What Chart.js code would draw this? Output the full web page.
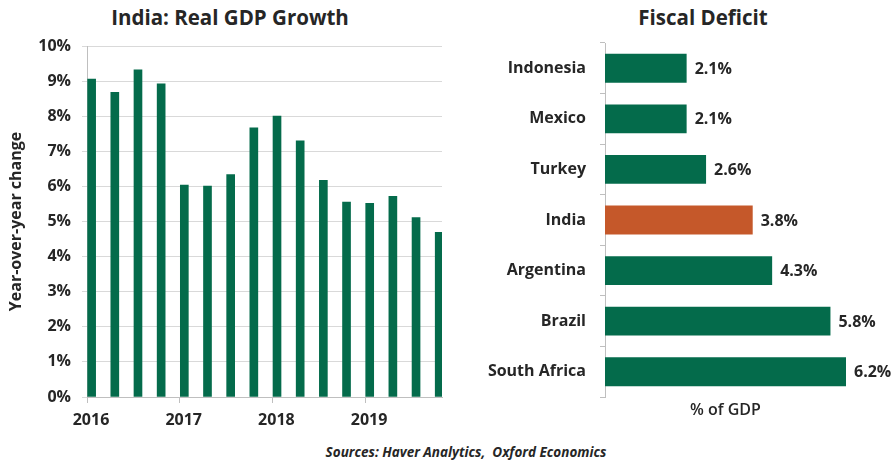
<!DOCTYPE html>
<html>
<head>
<meta charset="utf-8">
<script src="https://cdn.jsdelivr.net/npm/chart.js@4.4.1/dist/chart.umd.min.js"></script>
<style>
  body { margin: 0; background: #fff; }
  #wrap { position: relative; width: 894px; height: 460px; overflow: hidden; font-family: "Open Sans", sans-serif; color: #262626; }
  .title { position: absolute; top: 4px; width: 400px; text-align: center; font-weight: bold; font-size: 20.5px; line-height: 26px; }
  .box { position: absolute; top: 0; height: 440px; }
  #source { position: absolute; left: 266px; top: 442px; width: 400px; text-align: center; font-weight: bold; font-style: italic; font-size: 13.5px; line-height: 20px; }
</style>
</head>
<body>
<div id="wrap">
  <div class="title" style="left:30px">India: Real GDP Growth</div>
  <div class="title" style="left:503px">Fiscal Deficit</div>
  <div class="box" style="left:0; width:460px"><canvas id="gdpChart"></canvas></div>
  <div class="box" style="left:460px; width:434px"><canvas id="deficitChart"></canvas></div>
  <div id="source">Sources: Haver Analytics,&nbsp; Oxford Economics</div>
</div>
<script>
// quarterly real GDP growth, % y/y
const quarters = ['2016 Q1', '2016 Q2', '2016 Q3', '2016 Q4',
                  '2017 Q1', '2017 Q2', '2017 Q3', '2017 Q4',
                  '2018 Q1', '2018 Q2', '2018 Q3', '2018 Q4',
                  '2019 Q1', '2019 Q2', '2019 Q3', '2019 Q4'];
const gdpGrowth = [9.06, 8.68, 9.32, 8.92, 6.04, 6.01, 6.34, 7.67,
                   8.00, 7.30, 6.17, 5.55, 5.52, 5.72, 5.11, 4.69];
const yearTicks = [2016, 2017, 2018, 2019];

// fiscal deficit, % of GDP
const countries = ['Indonesia', 'Mexico', 'Turkey', 'India', 'Argentina', 'Brazil', 'South Africa'];
const deficit = [2.1, 2.1, 2.6, 3.8, 4.3, 5.8, 6.2];
const highlight = 'India';

const GREEN = '#046b4b';
const ORANGE = '#c5582a';
const TEXT = '#262626';
const FONT = '"Open Sans", sans-serif';

// quarter label -> position on a year axis
function quarterPos(label) {
  const [yr, q] = label.split(' Q');
  return Number(yr) + (Number(q) - 1) * 0.25 + 0.05;
}

new Chart(document.getElementById('gdpChart'), {
  type: 'bar',
  data: {
    datasets: [{
      data: quarters.map((q, i) => ({ x: quarterPos(q), y: gdpGrowth[i] })),
      backgroundColor: GREEN,
      barThickness: 8
    }]
  },
  options: {
    responsive: true,
    maintainAspectRatio: false,
    animation: false,
    layout: { padding: { top: 46, right: 18, bottom: 0, left: 0 } },
    plugins: { legend: { display: false }, tooltip: { enabled: false } },
    scales: {
      x: {
        type: 'linear',
        offset: false,
        min: 2016,
        max: 2019.83,
        afterBuildTicks: s => { s.ticks = yearTicks.map(v => ({ value: v })); },
        afterFit: s => { s.height = 43; },
        ticks: {
          callback: v => String(v),
          color: TEXT,
          font: { family: FONT, size: 16, weight: 'bold' },
          labelOffset: 4,
          padding: 8,
          maxRotation: 0
        },
        grid: { offset: false, drawOnChartArea: false, drawTicks: true, tickLength: 6, color: '#bfbfbf' },
        border: { color: '#bfbfbf' }
      },
      y: {
        min: 0,
        max: 10,
        afterFit: s => { s.width = 87; },
        ticks: {
          stepSize: 1,
          callback: v => v + '%',
          color: TEXT,
          font: { family: FONT, size: 16, weight: 'bold' },
          padding: 11
        },
        grid: { color: '#d9d9d9', tickLength: 5 },
        border: { color: '#bfbfbf' },
        title: {
          display: true,
          text: 'Year-over-year change',
          color: TEXT,
          font: { family: FONT, size: 16, weight: 'bold' },
          padding: { top: 7, bottom: 0 }
        }
      }
    }
  }
});

// value labels at the end of each horizontal bar
const barLabels = {
  id: 'barLabels',
  afterDatasetsDraw(chart) {
    const ctx = chart.ctx;
    const meta = chart.getDatasetMeta(0);
    ctx.save();
    ctx.fillStyle = TEXT;
    ctx.font = 'bold 16px ' + FONT;
    ctx.textAlign = 'left';
    ctx.textBaseline = 'middle';
    meta.data.forEach((bar, i) => {
      ctx.fillText(deficit[i].toFixed(1) + '%', bar.x + 8, bar.y + 1);
    });
    ctx.restore();
  }
};

new Chart(document.getElementById('deficitChart'), {
  type: 'bar',
  data: {
    labels: countries,
    datasets: [{
      data: deficit,
      backgroundColor: countries.map(c => c === highlight ? ORANGE : GREEN),
      barPercentage: 0.57,
      categoryPercentage: 1
    }]
  },
  plugins: [barLabels],
  options: {
    indexAxis: 'y',
    responsive: true,
    maintainAspectRatio: false,
    animation: false,
    layout: { padding: { top: 43, right: 48, bottom: 0, left: 0 } },
    plugins: { legend: { display: false }, tooltip: { enabled: false } },
    scales: {
      x: {
        min: 0,
        max: 6.2,
        afterFit: s => { s.height = 43; },
        ticks: { display: false },
        grid: { display: false },
        border: { display: false },
        title: {
          display: true,
          text: '% of GDP',
          color: TEXT,
          font: { family: FONT, size: 16, weight: '600' },
          padding: { top: 0, bottom: 20 }
        }
      },
      y: {
        afterFit: s => { s.width = 145; },
        ticks: {
          color: TEXT,
          font: { family: FONT, size: 16, weight: 'bold' },
          padding: 14
        },
        grid: { drawOnChartArea: false, tickLength: 5, color: '#bfbfbf' },
        border: { color: '#bfbfbf' }
      }
    }
  }
});
</script>
</body>
</html>
